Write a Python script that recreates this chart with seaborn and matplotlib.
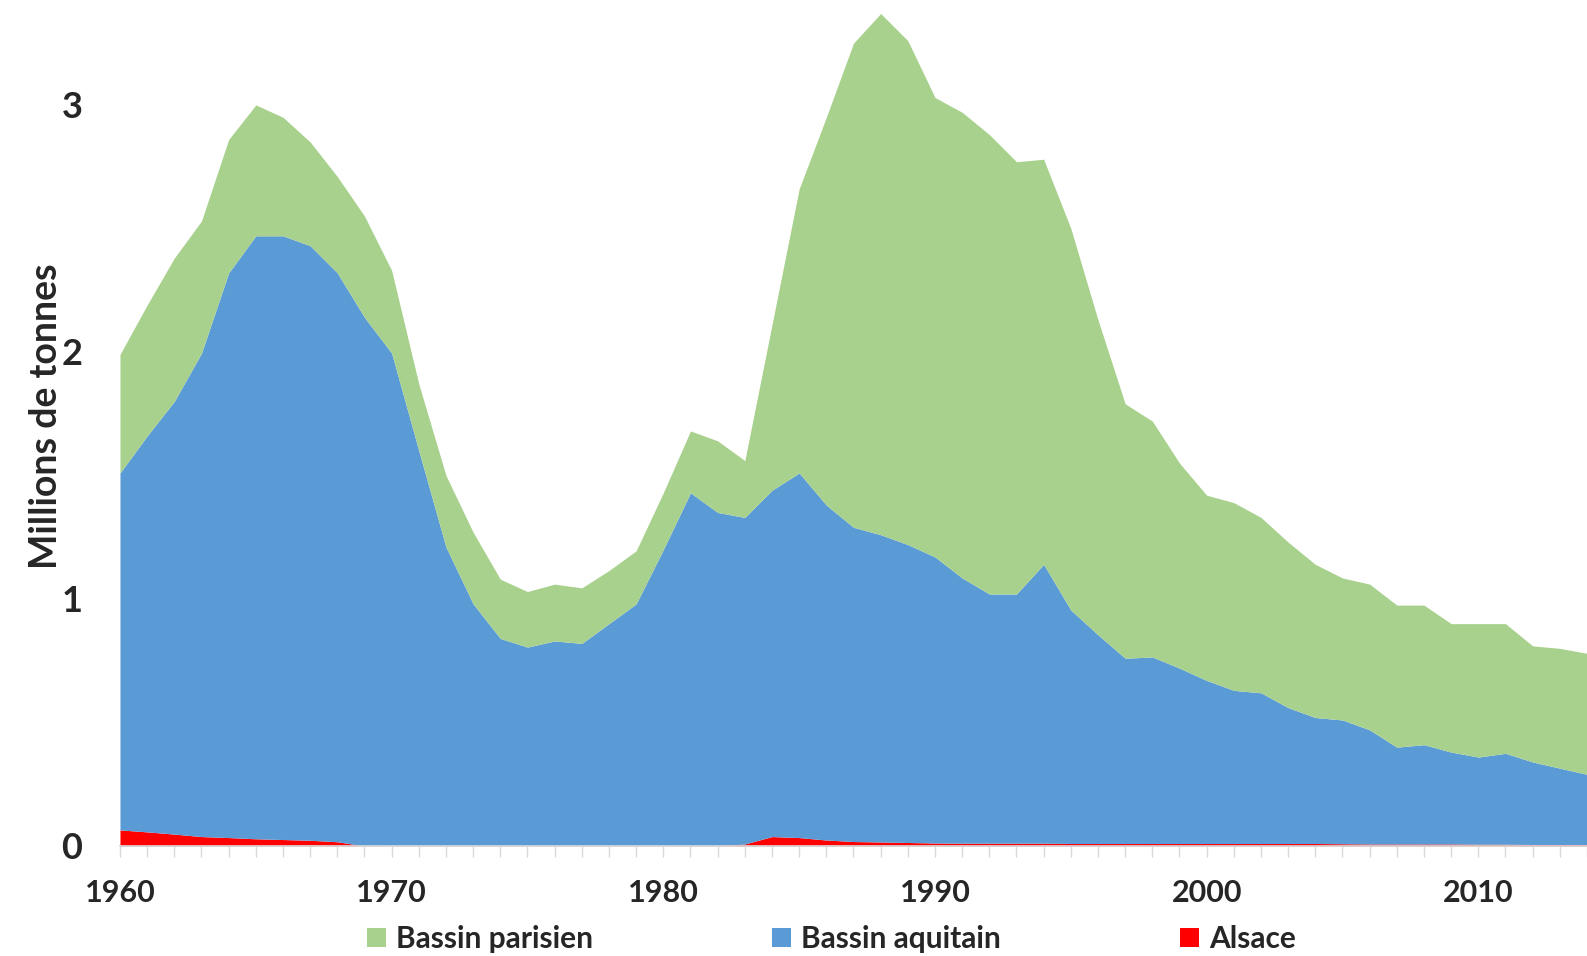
import matplotlib
matplotlib.use("Agg")
import matplotlib.pyplot as plt
import seaborn as sns

# Production de pétrole brut en France par bassin (millions de tonnes)
annees = list(range(1960, 2015))

alsace = [0.065, 0.057, 0.048, 0.038, 0.034, 0.029, 0.026, 0.023, 0.017, 0.0,
          0.0, 0.0, 0.0, 0.0, 0.0, 0.0, 0.0, 0.0, 0.0, 0.0,
          0.0, 0.0, 0.0, 0.008, 0.038, 0.034, 0.024, 0.018, 0.016, 0.014,
          0.012, 0.011, 0.011, 0.011, 0.011, 0.010, 0.010, 0.010, 0.010, 0.010,
          0.010, 0.010, 0.010, 0.010, 0.010, 0.009, 0.008, 0.008, 0.008, 0.008,
          0.007, 0.007, 0.006, 0.006, 0.006]

aquitain = [1.445, 1.603, 1.752, 1.957, 2.286, 2.441, 2.444, 2.407, 2.303, 2.14,
            1.995, 1.60, 1.21, 0.98, 0.84, 0.805, 0.83, 0.82, 0.90, 0.98,
            1.20, 1.43, 1.35, 1.322, 1.402, 1.476, 1.356, 1.272, 1.244, 1.206,
            1.158, 1.074, 1.009, 1.009, 1.129, 0.945, 0.845, 0.75, 0.755, 0.71,
            0.66, 0.62, 0.61, 0.55, 0.51, 0.501, 0.462, 0.392, 0.402, 0.372,
            0.353, 0.368, 0.334, 0.309, 0.284]

parisien = [0.48, 0.53, 0.58, 0.535, 0.54, 0.53, 0.48, 0.42, 0.39, 0.41,
            0.335, 0.27, 0.29, 0.29, 0.24, 0.225, 0.23, 0.225, 0.215, 0.215,
            0.23, 0.25, 0.29, 0.23, 0.67, 1.15, 1.57, 1.96, 2.11, 2.04,
            1.86, 1.885, 1.86, 1.75, 1.64, 1.545, 1.275, 1.03, 0.955, 0.83,
            0.75, 0.76, 0.71, 0.67, 0.62, 0.575, 0.59, 0.575, 0.565, 0.52,
            0.54, 0.525, 0.47, 0.485, 0.49]

noms = ["Alsace", "Bassin aquitain", "Bassin parisien"]
couleurs = ["#FF0000", "#5B9BD5", "#A9D18E"]

sns.set_theme(style="white")
plt.rcParams['font.family'] = ['Lato', 'DejaVu Sans']
plt.rcParams['font.weight'] = 'bold'
texte = "#262626"

fig = plt.figure(figsize=(15.87, 9.56), dpi=100)
ax = fig.add_axes([0.0756, 0.1151, 0.9244, 0.885])

aires = ax.stackplot(annees, alsace, aquitain, parisien,
                     colors=couleurs, labels=noms, linewidth=0)

ax.set_xlim(1960, 2013.44)
ax.set_ylim(0, 3.425)
ax.set_yticks([0, 1, 2, 3])
ax.set_xticks(range(1960, 2011, 10))
ax.set_xticks(annees, minor=True)

ax.tick_params(axis="y", length=0, pad=27, labelsize=26, labelcolor=texte)
ax.tick_params(axis="x", which="both", direction="out", length=8, width=1,
               color="#D9D9D9", bottom=True)
ax.tick_params(axis="x", which="major", pad=16, labelsize=22, labelcolor=texte)

sns.despine(ax=ax, left=True)
ax.spines["bottom"].set_color("#D9D9D9")
ax.spines["bottom"].set_zorder(5)

ax.set_ylabel("Millions de tonnes", fontsize=27, color=texte, fontweight="bold")
ax.yaxis.set_label_coords(-0.039, 0.508)

fig.legend(handles=aires[::-1], labels=noms[::-1], loc="center",
           bbox_to_anchor=(0.524, 0.018), ncol=3, frameon=False,
           fontsize=21.5, columnspacing=6.0, handlelength=0.62,
           handleheight=0.62, handletextpad=0.35, labelcolor=texte)

fig.savefig("out.png", dpi=100)
